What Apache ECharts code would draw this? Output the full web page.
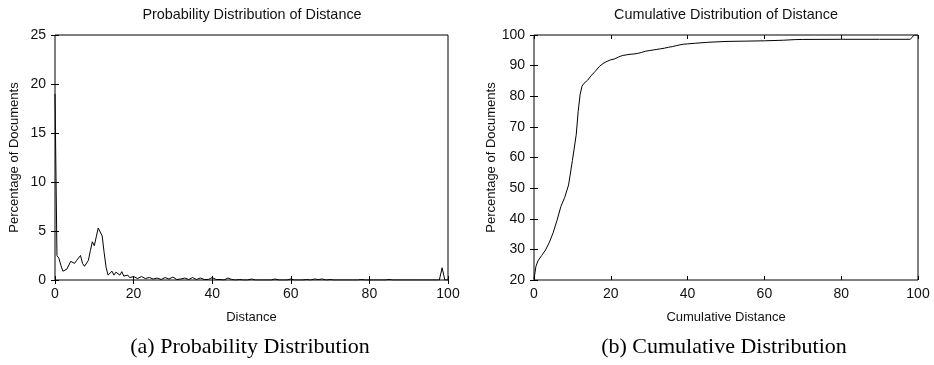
<!DOCTYPE html>
<html>
<head>
<meta charset="utf-8">
<script src="https://cdn.jsdelivr.net/npm/echarts@6/dist/echarts.min.js"></script>
<style>
html,body{margin:0;padding:0;background:#fff;}
#chart{width:934px;height:365px;}
</style>
</head>
<body>
<div id="chart"></div>
<script>
// ---- Data ----
const probDist = [0,0.5,1,1.5,2,2.5,3,3.5,4,4.5,5,5.5,6,6.5,7,7.5,8,8.5,9,9.5,10,10.5,11,11.5,12,12.5,13,13.5,14,14.5,15,15.5,16,16.5,17,17.5,18,18.5,19,19.5,20,
  21,22,23,24,25,26,27,28,29,30,31,32,33,34,35,36,37,38,39,40,41,42,43,44,45,46,47,48,49,50,
  51,52,53,54,55,56,57,58,59,60,61,62,63,64,65,66,67,68,69,70,71,72,73,74,75,76,77,78,79,80,
  81,82,83,84,85,86,87,88,89,90,91,92,93,94,95,96,97,97.8,98.5,99.2,100];
const probPct = [19,2.5,2.2,1.5,0.9,0.8,1.1,1.0,1.9,1.8,1.7,2.0,1.9,2.5,1.7,1.4,1.6,2.0,3.0,3.9,3.5,4.4,5.3,5.45,4.5,2.8,1.3,0.5,0.7,0.9,0.5,0.8,0.85,0.5,0.85,0.4,0.35,0.5,0.25,0.2,0.35,
  0.15,0.35,0.15,0.25,0.1,0.2,0.05,0.25,0.1,0.3,0.05,0.1,0.2,0.05,0.25,0.05,0.2,0.05,0.05,0.25,0.05,0.05,0,0.2,0.05,0,0.05,0,0,0.1,
  0,0,0,0,0,0.1,0,0,0,0.1,0,0,0,0.05,0,0.1,0.05,0.1,0,0.05,0,0,0,0,0,0,0,0.05,0,0,
  0,0,0,0,0.05,0,0,0,0,0,0,0,0,0,0,0,0,0,1.25,0,0];

const cumDist = [0,0.5,1,2,3,4,5,6,7,8,9,10,11,11.5,12,12.5,13,14,15,16,17,18,19,20,21,22,23,24,25,26,27,28,29,30,
  31,32,33,34,35,36,37,38,39,40,42,45,50,55,60,65,68,70,80,90,98,99,100];
const cumPct = [20.3,24.4,26.2,28.0,29.8,32.3,35.5,39.5,44.0,47.0,51.0,59.0,67.5,75.0,80.5,83.3,84.2,85.3,86.9,88.2,89.7,90.7,91.4,91.9,92.2,92.8,93.3,93.5,93.7,93.8,94.0,94.3,94.7,94.9,
  95.1,95.3,95.5,95.7,96.0,96.2,96.5,96.8,97.0,97.1,97.3,97.6,97.9,98.0,98.1,98.3,98.5,98.55,98.6,98.6,98.6,100,100];

const xTicks = [0,20,40,60,80,100];
const probYTicks = [0,5,10,15,20,25];
const cumYTicks = [20,30,40,50,60,70,80,90,100];

const titles = ['Probability Distribution of Distance','Cumulative Distribution of Distance'];
const xNames = ['Distance','Cumulative Distance'];
const yName = 'Percentage of Documents';
const captions = ['(a) Probability Distribution','(b) Cumulative Distribution'];

// ---- Chart ----
const SANS = '"Liberation Sans", Arial, Helvetica, sans-serif';
const SERIF = '"Liberation Serif", "Times New Roman", serif';
const chart = echarts.init(document.getElementById('chart'), null, {renderer:'canvas'});

function xAx(grid, pos, name, ticks){
  return {
    gridIndex:grid, type:'value', position:pos,
    min:ticks[0], max:ticks[ticks.length-1], interval:ticks[1]-ticks[0],
    axisLine:{show:false},
    axisTick:{show:true, inside:true, length:4, lineStyle:{color:'#000', width:1}},
    axisLabel:{show:pos==='bottom', color:'#111', fontSize:14, fontFamily:SANS, margin:7},
    splitLine:{show:false},
    name: pos==='bottom'?name:'', nameLocation:'middle', nameGap:31,
    nameTextStyle:{color:'#111', fontSize:13, fontFamily:SANS}
  };
}
function yAx(grid, pos, name, ticks){
  return {
    gridIndex:grid, type:'value', position:pos,
    min:ticks[0], max:ticks[ticks.length-1], interval:ticks[1]-ticks[0],
    axisLine:{show:false},
    axisTick:{show:true, inside:true, length:4, lineStyle:{color:'#000', width:1}},
    axisLabel:{show:pos==='left', color:'#111', fontSize:14, fontFamily:SANS, margin:9},
    splitLine:{show:false},
    name: pos==='left'?name:'', nameLocation:'middle', nameGap:34, nameRotate:90,
    nameTextStyle:{color:'#111', fontSize:13, fontFamily:SANS}
  };
}

const grids = [
  {left:55, top:35, width:393, height:245},
  {left:534, top:35, width:384, height:245}
];

chart.setOption({
  animation:false,
  backgroundColor:'#fff',
  grid: grids.map(g => Object.assign({show:true, borderColor:'#000', borderWidth:1, backgroundColor:'transparent'}, g)),
  xAxis:[
    xAx(0,'bottom',xNames[0],xTicks), xAx(0,'top','',xTicks),
    xAx(1,'bottom',xNames[1],xTicks), xAx(1,'top','',xTicks)
  ],
  yAxis:[
    yAx(0,'left',yName,probYTicks), yAx(0,'right','',probYTicks),
    yAx(1,'left',yName,cumYTicks), yAx(1,'right','',cumYTicks)
  ],
  series:[
    {type:'line', xAxisIndex:0, yAxisIndex:0, showSymbol:false, symbol:'none', smooth:false,
     lineStyle:{color:'#000', width:1}, data: probDist.map((d,i)=>[d, probPct[i]])},
    {type:'line', xAxisIndex:2, yAxisIndex:2, showSymbol:false, symbol:'none', smooth:false,
     lineStyle:{color:'#000', width:1}, data: cumDist.map((d,i)=>[d, cumPct[i]])}
  ],
  graphic:[
    {type:'text', x:252, y:15, style:{text:titles[0], textAlign:'center', textVerticalAlign:'middle', font:'14.4px '+SANS, fill:'#111'}},
    {type:'text', x:726, y:15, style:{text:titles[1], textAlign:'center', textVerticalAlign:'middle', font:'14.4px '+SANS, fill:'#111'}},
    {type:'text', x:250, y:347, style:{text:captions[0], textAlign:'center', textVerticalAlign:'middle', font:'22px '+SERIF, fill:'#000'}},
    {type:'text', x:724, y:347, style:{text:captions[1], textAlign:'center', textVerticalAlign:'middle', font:'22px '+SERIF, fill:'#000'}}
  ]
});
</script>
</body>
</html>
